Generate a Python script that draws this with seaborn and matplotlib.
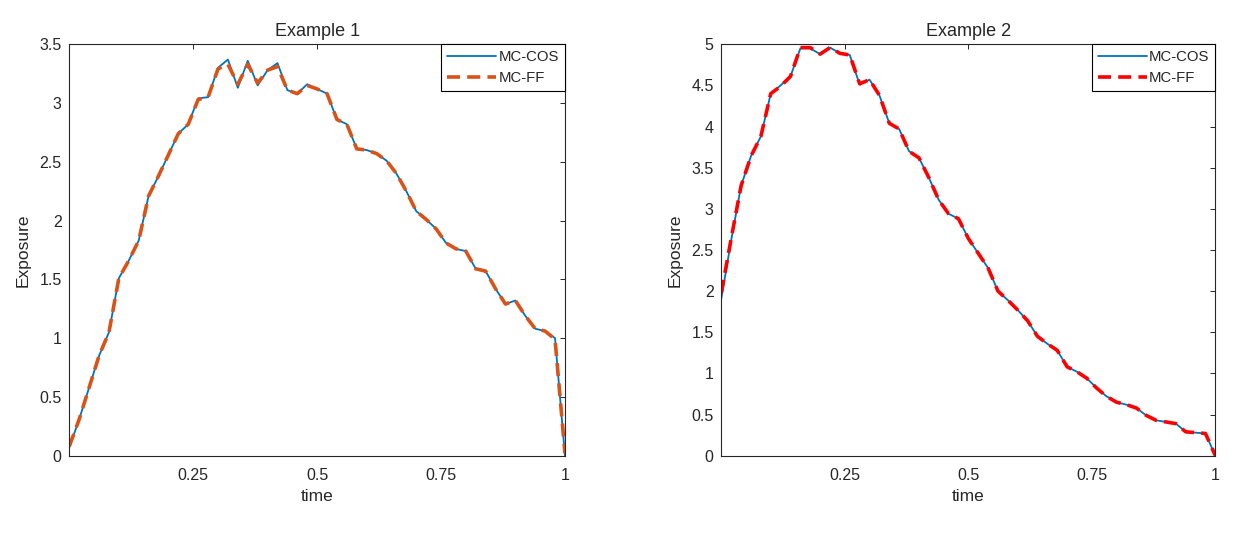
import numpy as np
import pandas as pd
import seaborn as sns
import matplotlib
matplotlib.use("Agg")
import matplotlib.pyplot as plt

# time grid (51 points, step 0.02)
time = np.round(np.arange(51) * 0.02, 2)

# Example 1
cos1 = [0.07, 0.31, 0.58, 0.85, 1.05, 1.51, 1.66, 1.83, 2.21, 2.38,
        2.56, 2.74, 2.82, 3.04, 3.05, 3.30, 3.37, 3.13, 3.36, 3.15,
        3.28, 3.34, 3.11, 3.08, 3.16, 3.12, 3.08, 2.86, 2.82, 2.61,
        2.60, 2.57, 2.51, 2.40, 2.25, 2.08, 2.01, 1.93, 1.81, 1.76,
        1.74, 1.59, 1.57, 1.42, 1.29, 1.32, 1.19, 1.08, 1.06, 1.00,
        0.00]
ff1 = [0.08, 0.31, 0.58, 0.85, 1.05, 1.51, 1.66, 1.83, 2.21, 2.38,
       2.56, 2.74, 2.82, 3.03, 3.05, 3.29, 3.33, 3.16, 3.33, 3.17,
       3.28, 3.31, 3.11, 3.08, 3.15, 3.12, 3.08, 2.86, 2.82, 2.61,
       2.60, 2.57, 2.51, 2.40, 2.25, 2.08, 2.01, 1.93, 1.81, 1.76,
       1.74, 1.59, 1.57, 1.42, 1.29, 1.32, 1.19, 1.08, 1.06, 0.99,
       0.02]

# Example 2
cos2 = [1.91, 2.62, 3.28, 3.64, 3.88, 4.40, 4.50, 4.61, 4.95, 4.95,
        4.88, 4.96, 4.89, 4.87, 4.51, 4.57, 4.38, 4.04, 3.97, 3.70,
        3.62, 3.38, 3.11, 2.94, 2.88, 2.64, 2.46, 2.28, 2.00, 1.89,
        1.77, 1.64, 1.45, 1.36, 1.28, 1.08, 1.02, 0.94, 0.82, 0.72,
        0.65, 0.62, 0.58, 0.49, 0.43, 0.41, 0.39, 0.29, 0.28, 0.27,
        0.00]
ff2 = [1.98, 2.64, 3.28, 3.64, 3.88, 4.40, 4.49, 4.61, 4.96, 4.96,
       4.88, 4.96, 4.89, 4.87, 4.52, 4.57, 4.38, 4.04, 3.97, 3.70,
       3.62, 3.38, 3.11, 2.94, 2.88, 2.64, 2.46, 2.28, 2.00, 1.89,
       1.77, 1.64, 1.45, 1.36, 1.28, 1.08, 1.02, 0.94, 0.82, 0.72,
       0.65, 0.62, 0.58, 0.49, 0.43, 0.41, 0.39, 0.29, 0.28, 0.27,
       0.00]

titles = ["Example 1", "Example 2"]
ff_colors = ["#D95319", "#FF0000"]
ymax = [3.5, 5]

sns.set_style("white")
plt.rcParams["font.family"] = ["Liberation Sans", "DejaVu Sans"]
plt.rcParams["axes.edgecolor"] = "#262626"
plt.rcParams["axes.linewidth"] = 0.8

fig = plt.figure(figsize=(12.51, 5.38), dpi=100)
ax1 = fig.add_axes([0.0554, 0.153, 0.3962, 0.7647])
ax2 = fig.add_axes([0.5766, 0.153, 0.3949, 0.7647])

for ax, cos, ff, title, col, top in zip([ax1, ax2], [cos1, cos2], [ff1, ff2],
                                        titles, ff_colors, ymax):
    df = pd.DataFrame({"time": time, "MC-COS": cos, "MC-FF": ff})
    sns.lineplot(data=df, x="time", y="MC-COS", ax=ax, color="#0072BD",
                 lw=1.3, label="MC-COS")
    sns.lineplot(data=df, x="time", y="MC-FF", ax=ax, color=col,
                 lw=2.6, linestyle=(0, (3.6, 2.0)), label="MC-FF")
    ax.set_xlim(0, 1)
    ax.set_ylim(0, top)
    ax.set_xticks([0.25, 0.5, 0.75, 1])
    ax.set_xticklabels(["0.25", "0.5", "0.75", "1"])
    yt = np.arange(0, top + 0.01, 0.5)
    ax.set_yticks(yt)
    ax.set_yticklabels(["%g" % v for v in yt])
    ax.tick_params(direction="in", top=True, right=True, length=3.5,
                   width=0.7, labelsize=11.5, colors="#262626")
    ax.tick_params(axis="x", pad=9)
    ax.tick_params(axis="y", pad=5.5)
    ax.set_title(title, fontsize=13, pad=6, color="#262626")
    ax.set_xlabel("time", fontsize=12.5, color="#262626", labelpad=4)
    ax.set_ylabel("Exposure", fontsize=12.5, color="#262626", labelpad=6)
    for s in ax.spines.values():
        s.set_visible(True)
    leg = ax.legend(loc="upper right", borderaxespad=0, fancybox=False,
                    edgecolor="black", framealpha=1, fontsize=10.7,
                    handlelength=3.3, borderpad=0.4, labelspacing=0.45,
                    handletextpad=0.15)
    leg.get_frame().set_linewidth(0.8)

fig.savefig("out.png", dpi=100)
